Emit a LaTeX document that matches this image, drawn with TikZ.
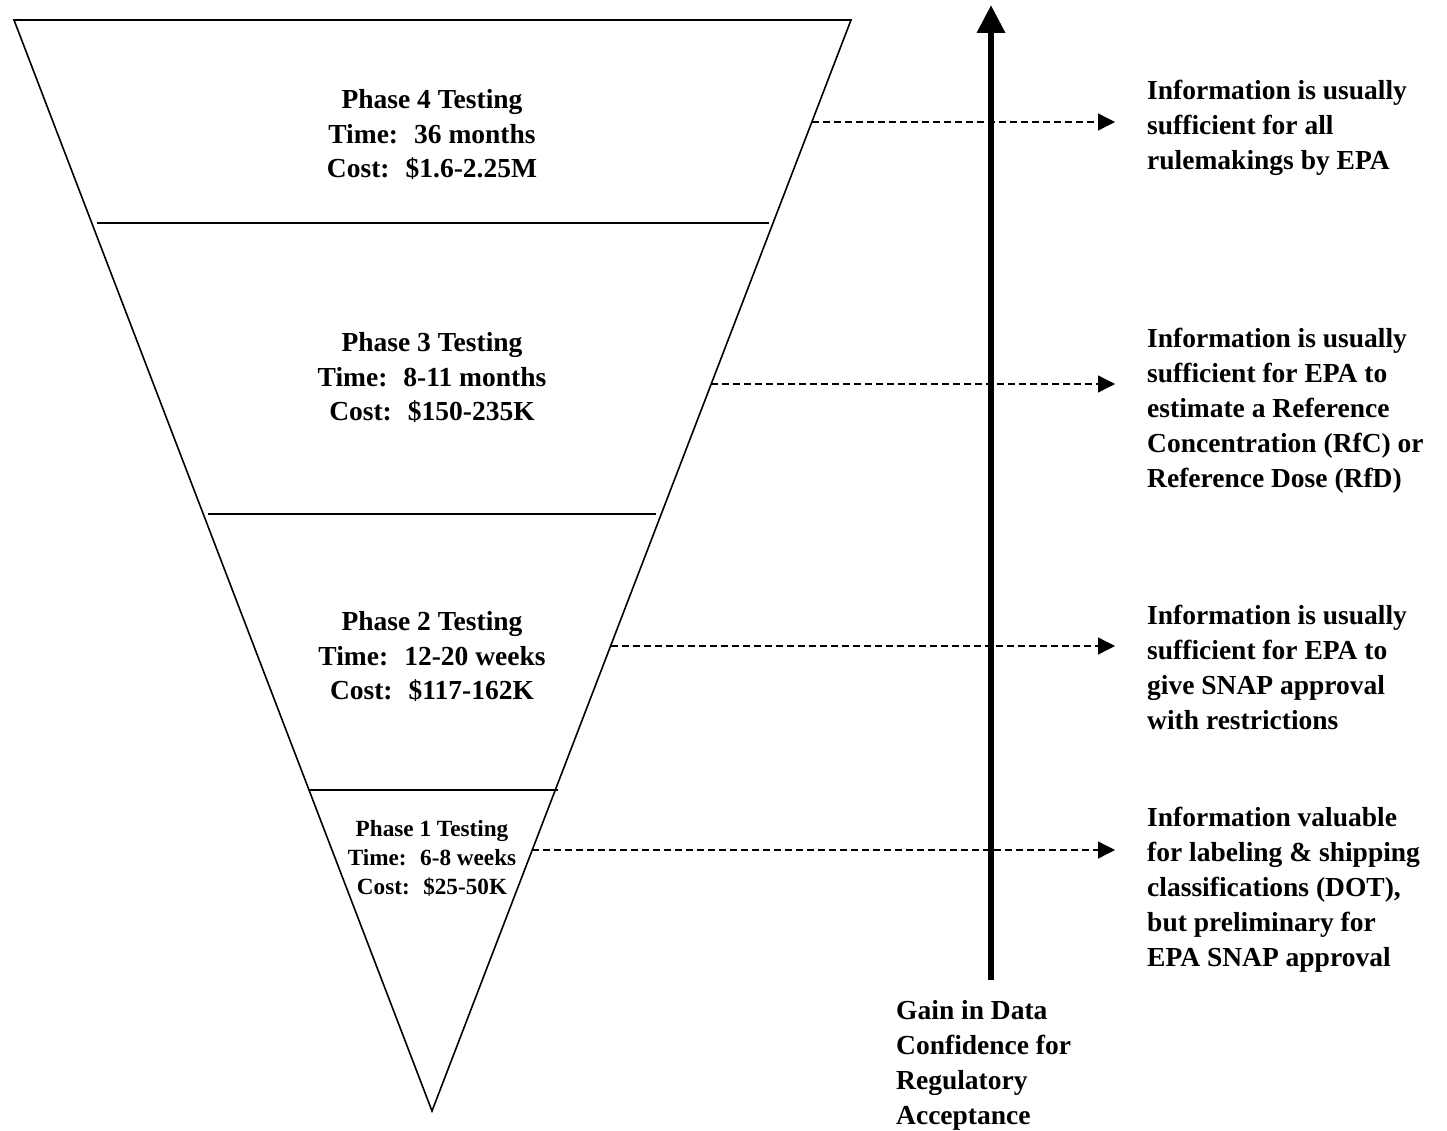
\documentclass[tikz,border=0pt]{standalone}
\usepackage{fontspec}
\setmainfont{Liberation Serif}
\usetikzlibrary{arrows.meta}
\tikzset{
  edge/.style={line width=1.6pt, line join=miter},
  divider/.style={line width=1.3pt},
  phasetext/.style={font=\bfseries\fontsize{27.5}{34.5}\selectfont, align=center, inner sep=0pt},
  phasesmall/.style={font=\bfseries\fontsize{23.2}{29}\selectfont, align=center, inner sep=0pt},
  infotext/.style={font=\bfseries\fontsize{27.5}{35}\selectfont, align=left, anchor=west, inner sep=0pt},
  gaintext/.style={font=\bfseries\fontsize{27.5}{35}\selectfont, align=left, anchor=west, inner sep=0pt},
  dasharrow/.style={line width=1.3pt, dash pattern=on 7pt off 4pt, -{Triangle[width=17pt,length=17pt]}},
  bigarrow/.style={line width=6.5pt, -{Triangle[width=27pt,length=28pt]}}
}
\begin{document}
\begin{tikzpicture}[x=1pt,y=-1pt]
\useasboundingbox[fill=white] (0,0) rectangle (1447,1131);
% funnel
\coordinate (TL) at (14,20);
\coordinate (TR) at (851,20);
\coordinate (AP) at (432,1111);
\draw[edge] (TL) -- (TR) -- (AP) -- cycle;
\draw[divider] (97,223) coordinate (d1a) -- (769,223) coordinate (d1b);
\draw[divider] (208,514) coordinate (d2a) -- (656,514) coordinate (d2b);
\draw[divider] (308,790) coordinate (d3a) -- (558,790) coordinate (d3b);
% phase labels
\node[phasetext] (p4) at (432,135) {Phase 4 Testing\\Time:~ 36 months\\Cost:~ \$1.6-2.25M};
\node[phasetext] (p3) at (432,378) {Phase 3 Testing\\Time:~ 8-11 months\\Cost:~ \$150-235K};
\node[phasetext] (p2) at (432,657) {Phase 2 Testing\\Time:~ 12-20 weeks\\Cost:~ \$117-162K};
\node[phasesmall] (p1) at (432,858) {Phase 1 Testing\\Time:~ 6-8 weeks\\Cost:~ \$25-50K};
% big arrow
\coordinate (gb) at (991,980);
\coordinate (gt) at (991,5);
\draw[bigarrow] (gb) -- (gt);
\node[gaintext] (gain) at (896,1065) {Gain in Data\\Confidence for\\Regulatory\\Acceptance};
% info texts
\node[infotext] (i4) at (1147,128) {Information is usually\\sufficient for all\\rulemakings by EPA};
\node[infotext] (i3) at (1147,411) {Information is usually\\sufficient for EPA to\\estimate a Reference\\Concentration (RfC) or\\Reference Dose (RfD)};
\node[infotext] (i2) at (1147,667) {Information is usually\\sufficient for EPA to\\give SNAP approval\\with restrictions};
\node[infotext] (i1) at (1147,890) {Information valuable\\for labeling \& shipping\\classifications (DOT),\\but preliminary for\\EPA SNAP approval};
% dashed connectors
\coordinate (s4) at (811.8,122);
\coordinate (e4) at (1115,122);
\coordinate (s3) at (711.2,384);
\coordinate (e3) at (1115,384);
\coordinate (s2) at (610.6,646);
\coordinate (e2) at (1115,646);
\coordinate (s1) at (532.2,850);
\coordinate (e1) at (1115,850);
\draw[dasharrow] (s4) -- (e4);
\draw[dasharrow] (s3) -- (e3);
\draw[dasharrow] (s2) -- (e2);
\draw[dasharrow] (s1) -- (e1);
\end{tikzpicture}
\end{document}
